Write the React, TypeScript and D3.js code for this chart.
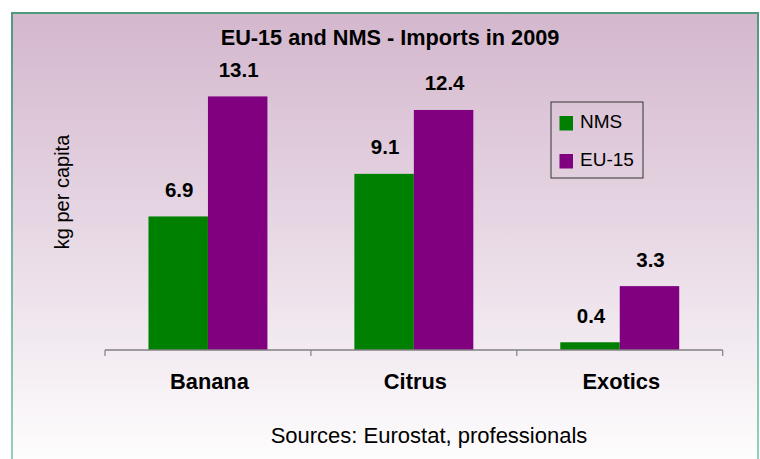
import React from "react";
import * as d3 from "d3";

const categories = ["Banana", "Citrus", "Exotics"];
const seriesNames = ["NMS", "EU-15"];
const nmsValues = [6.9, 9.1, 0.4];
const eu15Values = [13.1, 12.4, 3.3];
const seriesColors = ["#008000", "#800080"];

const W = 760;
const H = 459;
const FONT = "'Liberation Sans', Arial, sans-serif";

export default function App() {
  const x = d3.scaleBand<string>().domain(categories).range([105, 722.7]).paddingInner(0).paddingOuter(0);
  const xs = d3.scaleBand<string>().domain(seriesNames).range([0, x.bandwidth()]).paddingInner(0).paddingOuter(0.731);
  const y = d3.scaleLinear().domain([0, 14]).range([350, 79]);
  const data = [nmsValues, eu15Values];
  const ticks = [...categories.map((c) => x(c)!), 722.7];

  return (
    <svg width={W} height={H} style={{ position: "absolute", left: 0, top: 0, display: "block" }}>
      <defs>
        <linearGradient id="bg" x1="0" y1="0" x2="0" y2="1">
          <stop offset="0" stopColor="#d4b7cd" />
          <stop offset="0.45" stopColor="#e6d6e3" />
          <stop offset="1" stopColor="#ffffff" />
        </linearGradient>
        <linearGradient id="bd" x1="0" y1="0" x2="0" y2="1">
          <stop offset="0" stopColor="#4f9a7c" />
          <stop offset="1" stopColor="#93d3bf" />
        </linearGradient>
      </defs>
      <rect x={0} y={0} width={W} height={H} fill="#ffffff" />
      <rect x={12} y={13} width={746} height={460} fill="url(#bg)" stroke="url(#bd)" strokeWidth={2} />
      <text x={390} y={45} textAnchor="middle" fontFamily={FONT} fontWeight="bold" fontSize={21.7} fill="#000">
        EU-15 and NMS - Imports in 2009
      </text>
      <text
        transform={`translate(69,192) rotate(-90)`}
        textAnchor="middle"
        fontFamily={FONT}
        fontSize={20}
        fill="#000"
      >
        kg per capita
      </text>
      {categories.map((c, i) =>
        seriesNames.map((s, j) => {
          const v = data[j][i];
          const bx = x(c)! + xs(s)!;
          return (
            <g key={c + s}>
              <rect x={bx} y={y(v)} width={xs.bandwidth()} height={y(0) - y(v)} fill={seriesColors[j]} />
              <text
                x={bx + xs.bandwidth() / 2 + 1}
                y={y(v) - 19.5}
                textAnchor="middle"
                fontFamily={FONT}
                fontWeight="bold"
                fontSize={20.5}
                fill="#000"
              >
                {v.toFixed(1)}
              </text>
            </g>
          );
        })
      )}
      <line x1={105} x2={722.7} y1={350} y2={350} stroke="#808080" strokeWidth={1.5} />
      {ticks.map((t, i) => (
        <line key={i} x1={t} x2={t} y1={350} y2={356} stroke="#808080" strokeWidth={1.2} />
      ))}
      {categories.map((c) => (
        <text
          key={c}
          x={x(c)! + x.bandwidth() / 2 + 1.5}
          y={389}
          textAnchor="middle"
          fontFamily={FONT}
          fontWeight="bold"
          fontSize={21.8}
          fill="#000"
        >
          {c}
        </text>
      ))}
      <rect x={551} y={102} width={92} height={76} fill="none" stroke="#333" strokeWidth={1} />
      {seriesNames.map((s, j) => (
        <g key={s}>
          <rect x={559.5} y={116 + j * 38} width={13.5} height={14.5} fill={seriesColors[j]} />
          <text x={580} y={128 + j * 38} fontFamily={FONT} fontSize={19} fill="#000">
            {s}
          </text>
        </g>
      ))}
      <text x={429} y={443} textAnchor="middle" fontFamily={FONT} fontSize={22} fill="#000">
        Sources: Eurostat, professionals
      </text>
    </svg>
  );
}
